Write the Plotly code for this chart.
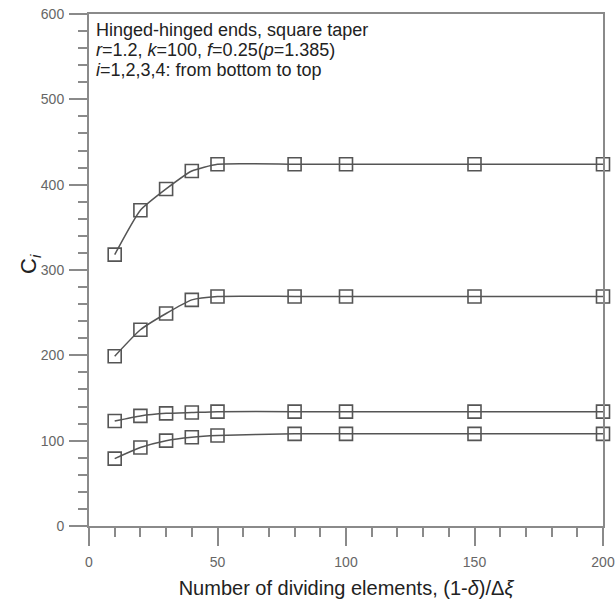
import plotly.graph_objects as go

# Number of dividing elements along the tapered member
elements = [10, 20, 30, 40, 50, 80, 100, 150, 200]

# Convergence of C_i for the four lowest modes (i = 1..4)
c1 = [79, 92, 100, 104, 106, 108, 108, 108, 108]
c2 = [123, 129, 132, 133, 134, 134, 134, 134, 134]
c3 = [199, 230, 249, 265, 269, 269, 269, 269, 269]
c4 = [318, 370, 395, 416, 424, 424, 424, 424, 424]

series = [c1, c2, c3, c4]

x_ticks = [0, 50, 100, 150, 200]
y_ticks = [0, 100, 200, 300, 400, 500, 600]

note_lines = [
    "Hinged-hinged ends, square taper",
    "<i>r</i>=1.2, <i>k</i>=100, <i>f</i>=0.25(<i>p</i>=1.385)",
    "<i>i</i>=1,2,3,4: from bottom to top",
]

line_col = "#555555"
axis_col = "#8a8a8a"
font_family = "Liberation Sans, Arial, sans-serif"

fig = go.Figure()
for vals in series:
    fig.add_trace(go.Scatter(
        x=elements, y=vals,
        mode="lines+markers",
        line=dict(color=line_col, width=1.5, shape="spline", smoothing=0.5),
        marker=dict(symbol="square-open", size=13,
                    color=line_col, line=dict(color=line_col, width=1.6)),
        cliponaxis=False,
        showlegend=False,
    ))

axis_common = dict(
    showline=True, linecolor=axis_col, linewidth=2, mirror=True,
    showgrid=False, zeroline=False, automargin=False,
    ticks="outside", ticklen=18, tickwidth=1.5, tickcolor=axis_col,
    tickfont=dict(family=font_family, size=14, color="#666666"),
)

fig.update_xaxes(
    range=[0, 200], tickvals=x_ticks,
    minor=dict(dtick=10, ticks="outside", ticklen=9, tickwidth=1.5, tickcolor=axis_col),
    title=dict(text="Number of dividing elements, (1-<i>δ</i>)/Δ<i>ξ</i>",
               font=dict(family=font_family, size=20, color="#222222"), standoff=12),
    ticklabelstandoff=4,
    **axis_common,
)
fig.update_yaxes(
    range=[0, 600], tickvals=y_ticks,
    minor=dict(dtick=20, ticks="outside", ticklen=9, tickwidth=1.5, tickcolor=axis_col),
    ticklabelstandoff=2,
    **axis_common,
)

# y-axis title placed as a rotated label beside the tick numbers
fig.add_annotation(
    text="C<sub><i>i</i></sub>", xref="paper", yref="paper",
    x=0.0, y=0.5, xanchor="center", yanchor="middle",
    xshift=-59, yshift=6, textangle=-90, showarrow=False,
    font=dict(family=font_family, size=22, color="#222222"),
)

for k, txt in enumerate(note_lines):
    fig.add_annotation(
        text=txt, xref="paper", yref="paper",
        x=0.0, y=1.0, xanchor="left", yanchor="middle",
        xshift=5, yshift=-16 - 20 * k,
        showarrow=False, align="left",
        font=dict(family=font_family, size=18, color="#222222"),
    )

fig.update_layout(
    width=615, height=602,
    margin=dict(l=89, r=12, t=14, b=76),
    paper_bgcolor="white", plot_bgcolor="white",
)

fig.write_html("out.html")
